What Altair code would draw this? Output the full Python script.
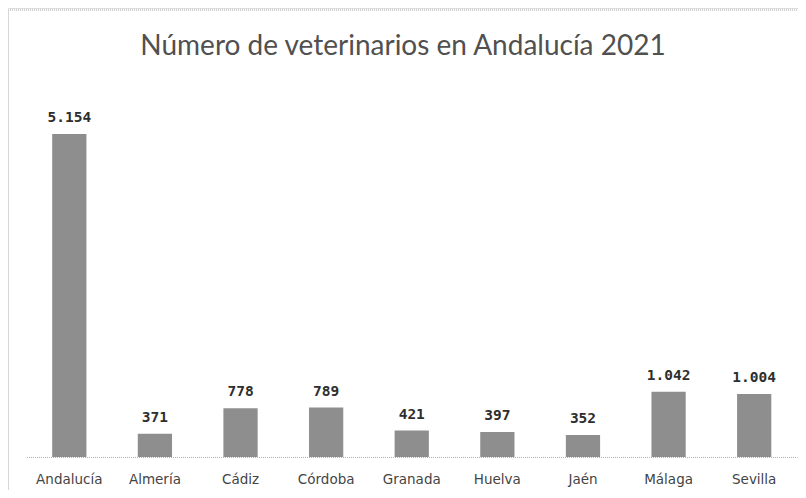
import altair as alt
import pandas as pd

provincias = ["Andalucía", "Almería", "Cádiz", "Córdoba", "Granada", "Huelva", "Jaén", "Málaga", "Sevilla"]
veterinarios = [5154, 371, 778, 789, 421, 397, 352, 1042, 1004]
etiquetas = ["5.154", "371", "778", "789", "421", "397", "352", "1.042", "1.004"]

df = pd.DataFrame({"provincia": provincias, "valor": veterinarios, "etiqueta": etiquetas})

x = alt.X("provincia:N", sort=provincias, title=None,
          scale=alt.Scale(range=[18.5, 789], paddingInner=0.6, paddingOuter=0.3),
          axis=alt.Axis(orient="bottom", offset=-33, domain=True, domainColor="#b0b0b0",
                        domainDash=[1, 1], domainWidth=1, ticks=False, labelAngle=0,
                        labelPadding=15, labelFont="DejaVu Sans", labelFontSize=13.5,
                        labelColor="#444444", grid=False))
y = alt.Y("valor:Q", title=None,
          scale=alt.Scale(domain=[0, 7000], range=[449, 10.3], nice=False),
          axis=None)

bars = alt.Chart(df).mark_bar(color="#8e8e8e").encode(x=x, y=y)
labels = alt.Chart(df).mark_text(baseline="bottom", dy=-9, font="DejaVu Sans Mono", fontSize=14.5,
                                 fontWeight="bold", color="#2e2e2e").encode(
    x=x, y=y, text="etiqueta:N")

top_border = alt.Chart(df).mark_rule(color="#cfcfcf", strokeDash=[1, 1]).encode(
    x=alt.value(0), x2=alt.value(790), y=alt.value(2))
left_border = alt.Chart(df).mark_rule(color="#cfcfcf", strokeDash=[1, 1]).encode(
    x=alt.value(0), y=alt.value(2), y2=alt.value(490))

chart = alt.layer(top_border, left_border, bars, labels).properties(
    width=790, height=482,
    padding={"left": 0, "right": 0, "top": 0, "bottom": 0},
    autosize=alt.AutoSizeParams(type="none"),
    title=alt.TitleParams("Número de veterinarios en Andalucía 2021", anchor="middle",
                          frame="group", offset=-53, font="Lato", fontSize=28,
                          fontWeight="normal", color="#505050"),
).configure_view(stroke=None).configure(background="white")

chart.save("out.html", embed_options={"renderer": "svg", "actions": False})
